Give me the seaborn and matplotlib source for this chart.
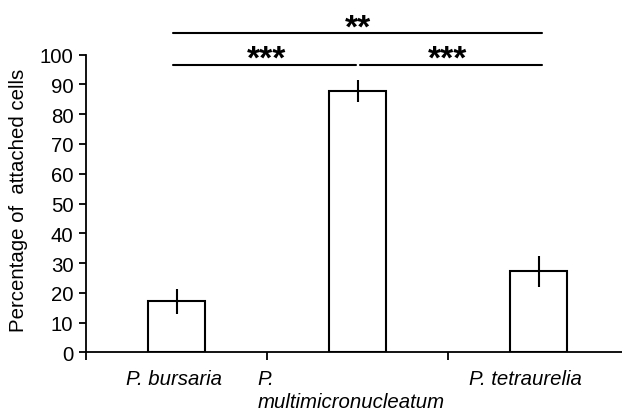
import pandas as pd
import matplotlib.pyplot as plt
import matplotlib.transforms as mtransforms
import seaborn as sns

# Data
species = ['P. bursaria', 'P.\nmultimicronucleatum', 'P. tetraurelia']
attached = [17.2, 87.8, 27.3]
errors = [4.2, 3.7, 5.2]

# significance brackets: (left bar, right bar, label)
pairs = [(0, 1, '***'), (1, 2, '***'), (0, 2, '**')]

df = pd.DataFrame({'species': species, 'attached': attached})

sns.set_style('white')
plt.rcParams['font.family'] = ['Liberation Sans', 'DejaVu Sans']
plt.rcParams['text.color'] = 'black'
plt.rcParams['axes.labelcolor'] = 'black'
plt.rcParams['xtick.color'] = 'black'
plt.rcParams['ytick.color'] = 'black'

fig = plt.figure(figsize=(6.22, 4.14), dpi=100)
ax = fig.add_axes([86 / 622, 1 - 353.3 / 414, 543 / 622, 297.6 / 414])

sns.barplot(x='species', y='attached', data=df, color='white', edgecolor='black',
            linewidth=1.5, width=0.32, errorbar=None, ax=ax)
ax.errorbar(range(len(species)), attached, yerr=errors, fmt='none',
            ecolor='black', elinewidth=1.5, capsize=0)

ax.set_ylim(0, 100)
ax.set_xlim(-0.5, 2.5)
ax.set_yticks(range(0, 101, 10))
ax.tick_params(axis='y', labelsize=14.7, length=5, width=1.3, direction='out',
               left=True, pad=4)

# category boundaries as ticks, labels on minor ticks
ax.set_xticks([-0.5, 0.5, 1.5, 2.5])
ax.set_xticklabels([])
ax.set_xticks([0, 1, 2], minor=True)
ax.set_xticklabels(species, minor=True, fontsize=14.7, style='italic', ha='center',
                   linespacing=1.3)
ax.tick_params(axis='x', which='major', length=6, width=1.3, direction='out', bottom=True)
ax.tick_params(axis='x', which='minor', length=0, pad=12)

labels = ax.get_xticklabels(minor=True)
offsets = [-3, -100, -13]
for lab, dx in zip(labels, offsets):
    lab.set_transform(lab.get_transform() + mtransforms.ScaledTranslation(dx / 100, 0, fig.dpi_scale_trans))
labels[1].set_ha('left')
labels[1].set_multialignment('left')

ax.set_xlabel('')
ax.set_ylabel('Percentage of  attached cells', fontsize=14.7)
ax.yaxis.set_label_coords(-0.106, 0.515)

for side in ['top', 'right']:
    ax.spines[side].set_visible(False)
for side in ['left', 'bottom']:
    ax.spines[side].set_color('black')
    ax.spines[side].set_linewidth(1.3)

# significance lines
levels = {(0, 1): 96.7, (1, 2): 96.7, (0, 2): 107.3}
for a, b, txt in pairs:
    y = levels[(a, b)]
    x0, x1 = a - 0.02, b + 0.02
    if (a, b) == (0, 1):
        x1 = b - 0.01
    if (a, b) == (1, 2):
        x0 = a + 0.015
    ax.plot([x0, x1], [y, y], color='black', lw=1.5, clip_on=False)
    ax.text((a + b) / 2, y - 3.5, txt, ha='center', va='bottom', fontsize=24,
            fontweight='bold', clip_on=False)

plt.savefig('out.png', dpi=100)
plt.close()
